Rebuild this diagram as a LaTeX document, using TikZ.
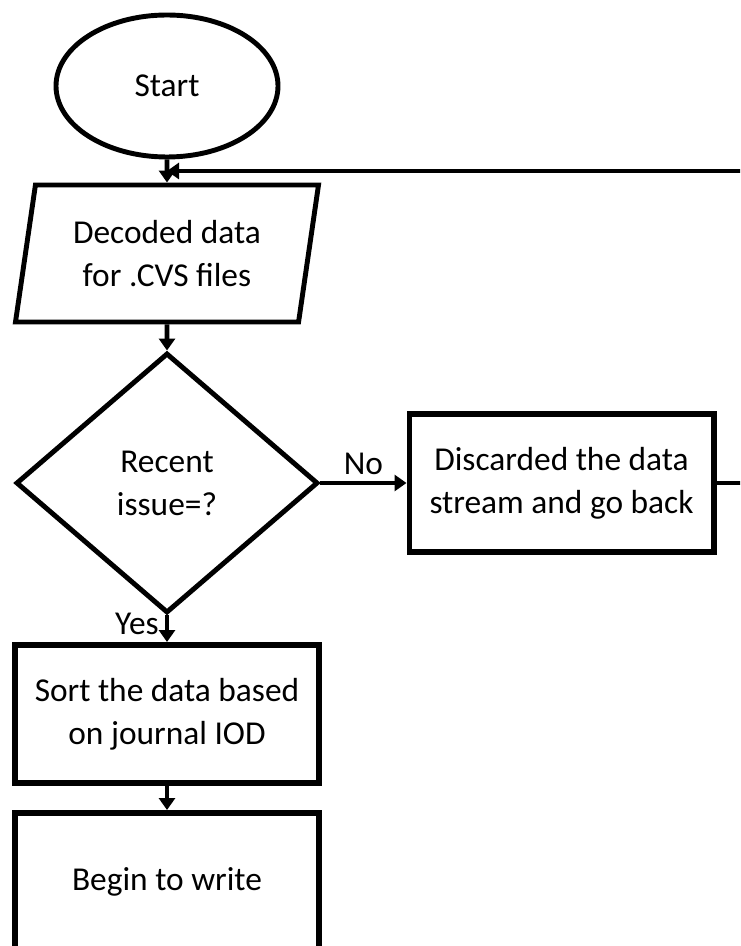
\documentclass[tikz,border=0pt]{standalone}
\usepackage{fontspec}
\setmainfont{Carlito}
\usetikzlibrary{arrows.meta,shapes.geometric,calc}

\begin{document}
\begin{tikzpicture}[node distance = 3cm, line width=2.8pt, >={Triangle[length=0.24cm,width=0.32cm]},
  every node/.style={font=\fontsize{19}{24.5}\selectfont, align=center},
  box/.style={rectangle, draw=black, line width=3.4pt, minimum width=6.08cm, minimum height=2.76cm}]
  \useasboundingbox (0,0) rectangle (14.8,-18.92);
  \clip (0,0) rectangle (14.8,-18.92);

  \node[ellipse, draw=black, minimum width=4.44cm, minimum height=2.84cm] at (3.34,-1.72) (start) {Start};
  \node[trapezium, trapezium left angle=75.7, trapezium right angle=104.3, trapezium stretches body,
        draw=black, minimum width=6.06cm, minimum height=2.74cm, below of = start, node distance = 3.35cm] (decoded) {Decoded data\\for .CVS files};
  \node[diamond, draw=black, minimum width=6.04cm, minimum height=5.2cm, inner sep=0pt,
        below of = decoded, node distance = 4.59cm] (recent) {Recent\\issue=?};
  \node[box, right of = recent, node distance = 7.89cm] (discard) {Discarded the data\\stream and go back};
  \node[box, below of = recent, node distance = 4.62cm] (sort) {Sort the data based\\on journal IOD};
  \node[box, below of = sort, node distance = 3.36cm] (write) {Begin to write};

  \coordinate (join) at ($(start.south)!.5!(decoded.north)$);

  \draw[->] (start)--(decoded);
  \draw[->] (decoded)--(recent);
  \draw[->] (recent)--node[above] {No} (discard);
  \draw[->] (recent)--node[left, pos=0.3] {Yes} (sort);
  \draw[->] (sort)--(write);
  \draw[->] (discard.east) -- ++(1,0) |- (join);

\end{tikzpicture}
\end{document}
